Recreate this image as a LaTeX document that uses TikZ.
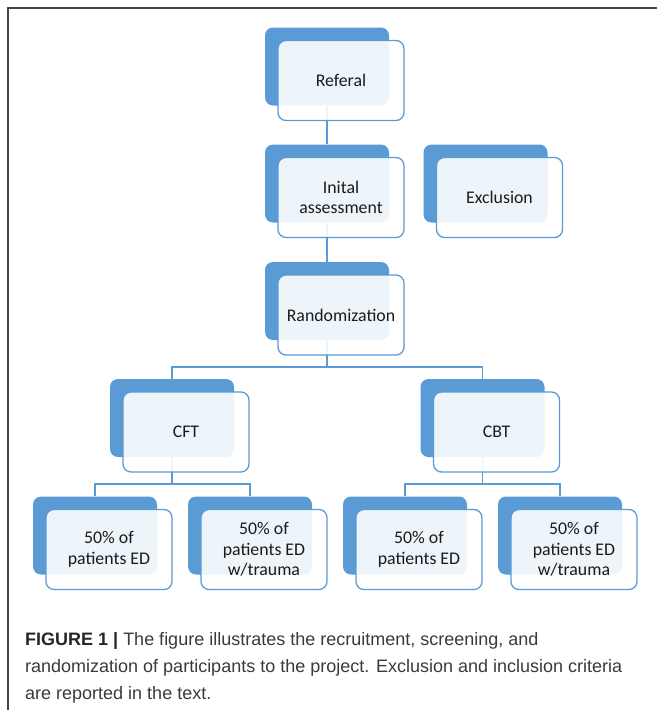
\documentclass[tikz,border=0pt]{standalone}
\usepackage{fontspec}
\setmainfont{Carlito}
\newfontfamily\capfont{Liberation Sans}
\definecolor{boxblue}{HTML}{5B9BD5}
\definecolor{txt}{HTML}{1A1A1A}
\definecolor{framegray}{HTML}{444444}
\definecolor{capgray}{HTML}{3A3A3A}
\begin{document}
\begin{tikzpicture}[x=1pt,y=-1pt,
  backbox/.style={fill=boxblue, rounded corners=8pt, minimum width=124pt, minimum height=78pt, inner sep=0pt},
  frontbox/.style={draw=boxblue, line width=1.3pt, fill=white, fill opacity=0.9, text opacity=1,
    rounded corners=8pt, minimum width=126pt, minimum height=80pt, inner sep=0pt, align=center,
    font=\fontsize{17.8}{20.5}\selectfont, text=txt},
  link/.style={draw=boxblue, line width=1.5pt},
  captext/.style={anchor=base west, inner sep=0pt, text=capgray, font=\capfont\fontsize{18}{20}\selectfont}]
\useasboundingbox (0,0) rectangle (657,710);
\draw[framegray, line width=1.5pt] (8,710) -- (8,8) -- (657,8);

% back boxes
\node[backbox] (refB) at (327,66.5) {};
\node[backbox] (iniB) at (327,183.5) {};
\node[backbox] (excB) at (485.5,183.5) {};
\node[backbox] (ranB) at (327,301) {};
\node[backbox] (cftB) at (172,418) {};
\node[backbox] (cbtB) at (482.5,418) {};
\node[backbox] (b1B) at (95,535.5) {};
\node[backbox] (b2B) at (250,535.5) {};
\node[backbox] (b3B) at (405,535.5) {};
\node[backbox] (b4B) at (560,535.5) {};

% connectors
\coordinate (j1) at (327,367);
\coordinate (j2) at (172,484);
\coordinate (j3) at (482.5,484);
\draw[link] (refB.south) -- (iniB.north);
\draw[link] (iniB.south) -- (ranB.north);
\draw[link] (ranB.south) -- (j1);
\draw[link] (j1) -| (cftB.north);
\draw[link] (j1) -| (cbtB.north);
\draw[link] (cftB.south) -- (j2);
\draw[link] (j2) -| (b1B.north);
\draw[link] (j2) -| (b2B.north);
\draw[link] (cbtB.south) -- (j3);
\draw[link] (j3) -| (b3B.north);
\draw[link] (j3) -| (b4B.north);

% front boxes
\node[frontbox] (ref) at (341,80.5) {Referal};
\node[frontbox] (ini) at (341,197.5) {Inital\\assessment};
\node[frontbox] (exc) at (499.5,197.5) {Exclusion};
\node[frontbox] (ran) at (341,315) {Randomization};
\node[frontbox] (cft) at (186,432) {CFT};
\node[frontbox] (cbt) at (496.5,432) {CBT};
\node[frontbox] (b1) at (109,549.5) {50\% of\\patients ED};
\node[frontbox] (b2) at (264,549.5) {50\% of\\patients ED\\w/trauma};
\node[frontbox] (b3) at (419,549.5) {50\% of\\patients ED};
\node[frontbox] (b4) at (574,549.5) {50\% of\\patients ED\\w/trauma};

% caption
\node[captext] (cap1) at (25,645) {{\bfseries\color{black!85}FIGURE 1 |} The figure illustrates the recruitment, screening, and};
\node[captext] (cap2) at (25,672) {randomization of participants to the project. Exclusion and inclusion criteria};
\node[captext] (cap3) at (25,699) {are reported in the text.};
\end{tikzpicture}
\end{document}
